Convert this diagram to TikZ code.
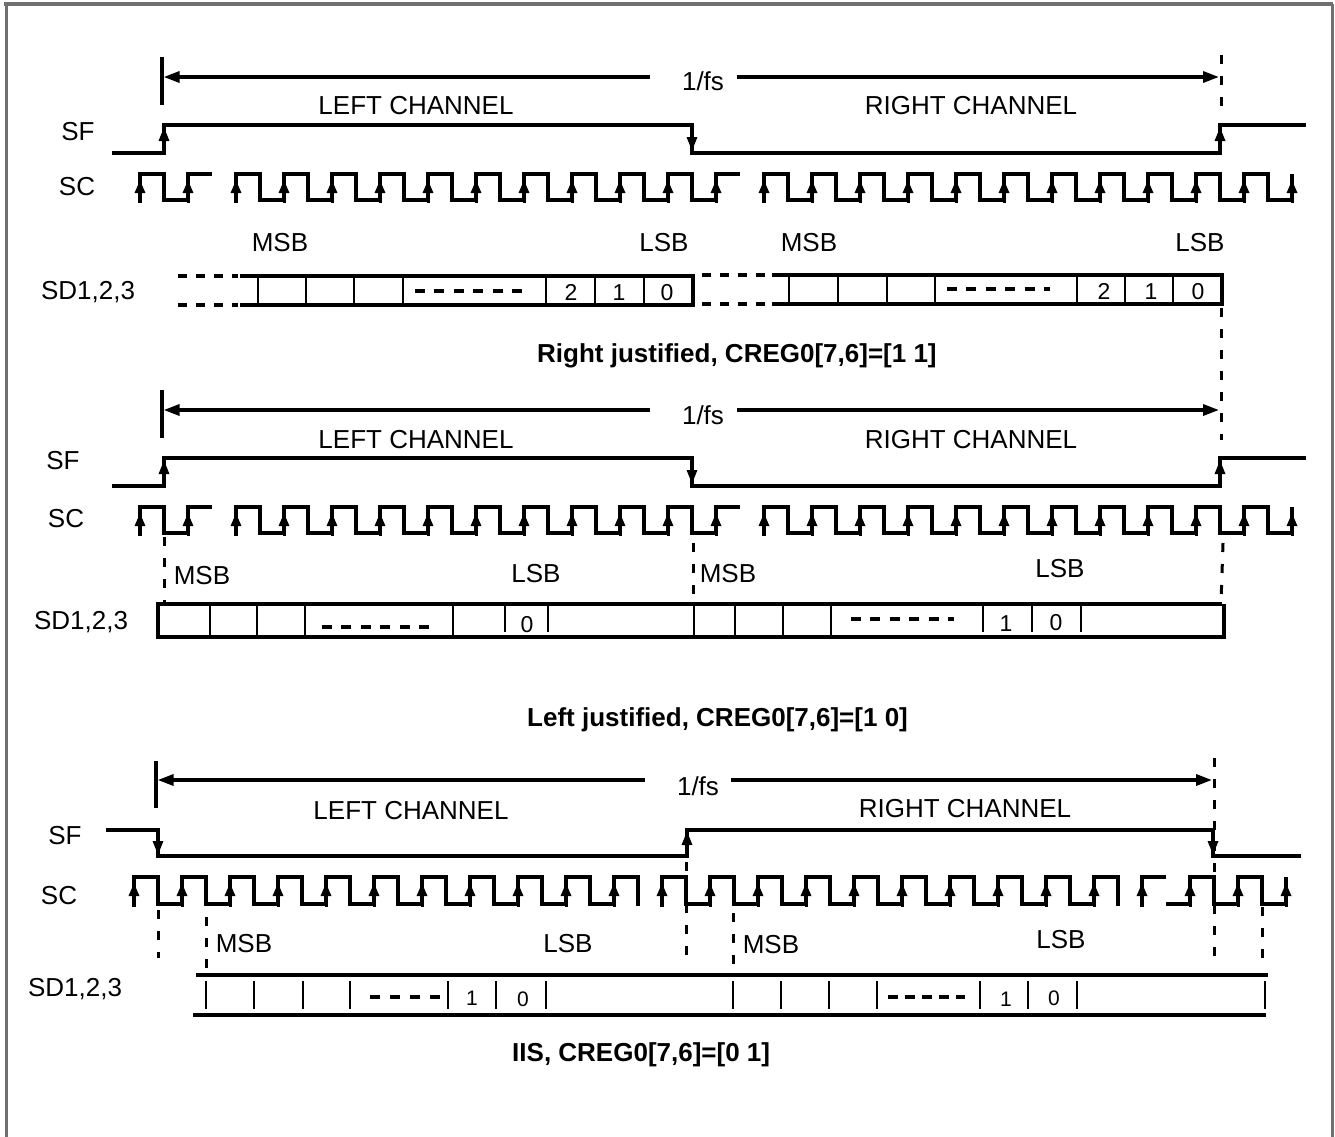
\documentclass[tikz,border=0pt]{standalone}
\usepackage{fontspec}
\setmainfont{Liberation Sans}
\usetikzlibrary{arrows.meta}
\definecolor{framegray}{RGB}{112,112,112}
\tikzset{
  wave/.style={line width=3.3pt, line join=miter},
  scarr/.style={line width=3pt, -{Triangle[length=13pt,width=10pt]}},
  sfarr/.style={line width=3pt, -{Triangle[length=14pt,width=10pt]}},
  dimarr/.style={line width=3.3pt, -{Triangle[length=16pt,width=11pt]}},
  sdline/.style={line width=3.4pt},
  div/.style={line width=2.6pt},
  vdash/.style={line width=3pt, dash pattern=on 9pt off 12pt},
  hdash/.style={line width=3.2pt, dash pattern=on 9pt off 9pt},
  mdash/.style={line width=3.2pt, dash pattern=on 10pt off 9.4pt},
  lbl/.style={font=\fontsize{26}{30}\selectfont, inner sep=0pt, anchor=base},
  dig/.style={font=\fontsize{23}{27}\selectfont, inner sep=0pt, anchor=base},
  capt/.style={font=\bfseries\fontsize{26}{30}\selectfont, inner sep=0pt, anchor=base west}
}
\newcommand\rjblock[1]{%
  % SC clock
  \draw[wave] (140,203) -- (140,174) -- (164,174) -- (164,200) -- (188,200) -- (188,174) -- (212,174);
  \draw[wave] (236,203) foreach \k in {2,...,11} { -- ({140+48*\k},174) -- ({164+48*\k},174) -- ({164+48*\k},200) -- ({188+48*\k},200) } -- (716,174) -- (740,174);
  \draw[wave] (764,203) foreach \k in {13,...,23} { -- ({140+48*\k},174) -- ({164+48*\k},174) -- ({164+48*\k},200) -- ({188+48*\k},200) } -- (1292,174);
  \foreach \k in {0,...,24} \draw[scarr] ({140+48*\k},203) -- ({140+48*\k},180);
  % SF
  \draw[wave] (112,153) -- (164,153) -- (164,125) -- (692,125) -- (692,153) -- (1220,153) -- (1220,125) -- (1306,125);
  \draw[sfarr] (164,153) -- (164,127);
  \draw[sfarr] (692,125) -- (692,151);
  \draw[sfarr] (1220,153) -- (1220,127);
  % 1/fs
  \draw[wave] (162,57) -- (162,105);
  \node[lbl] (fs#1) at (703,91) {1/fs};
  \draw[dimarr] (650,77) -- (163.6,77);
  \draw[dimarr] (737,77) -- (1219,77);
  \node[lbl] (lc#1) at (416,115) {LEFT CHANNEL};
  \node[lbl] (rc#1) at (971,115) {RIGHT CHANNEL};
}
\begin{document}
\begin{tikzpicture}[x=1pt,y=-1pt]
\useasboundingbox (0,0) rectangle (1335,1137);
% frame
\draw[framegray, line width=4.5pt] (4,4) -- (1333,4);
\draw[framegray, line width=3pt] (6,4) -- (6,1137);
\draw[framegray, line width=3pt] (1332,4) -- (1332,1137);

% ================= Section 1: right justified =================
\rjblock{a}
\node[lbl] (sfa) at (78,140) {SF};
\node[lbl] (sca) at (77,195) {SC};
\node[lbl] (sda) at (88,299) {SD1,2,3};
\node[lbl] (msba1) at (280,251) {MSB};
\node[lbl] (lsba1) at (664,251) {LSB};
\node[lbl] (msba2) at (809,251) {MSB};
\node[lbl] (lsba2) at (1200,251) {LSB};
% SD left word
\draw[hdash] (178,276) -- (238,276);
\draw[hdash] (178,305) -- (238,305);
\draw[sdline] (240,276) -- (693,276);
\draw[sdline] (240,305) -- (693,305);
\foreach \x in {258,306,354,403,546,595,644} \draw[div] (\x,276) -- (\x,305);
\draw[sdline] (693,274.3) -- (693,306.7);
\draw[mdash] (415,291) -- (522,291);
\node[dig] (a2) at (571,300) {2};
\node[dig] (a1) at (619,300) {1};
\node[dig] (a0) at (667,300) {0};
% SD right word
\draw[hdash] (702,275) -- (768,275);
\draw[hdash] (702,304) -- (768,304);
\draw[sdline] (772,275) -- (1222,275);
\draw[sdline] (772,304) -- (1222,304);
\foreach \x in {789,838,887,935,1077,1125,1173} \draw[div] (\x,275) -- (\x,304);
\draw[sdline] (1222,273.3) -- (1222,305.7);
\draw[mdash] (947,289) -- (1050,289);
\node[dig] (b2) at (1104,299) {2};
\node[dig] (b1) at (1151,299) {1};
\node[dig] (b0) at (1198,299) {0};
% long dashed marker
\draw[vdash] (1221,55) -- (1221,107);
\draw[vdash] (1221,308) -- (1221,440);
\node[capt] (capa) at (537,362) {Right justified, CREG0[7,6]=[1 1]};

% ================= Section 2: left justified =================
\begin{scope}[yshift=-333pt]
\rjblock{b}
\end{scope}
\node[lbl] (sfb) at (63,469) {SF};
\node[lbl] (scb) at (66,527) {SC};
\node[lbl] (sdb) at (81,629) {SD1,2,3};
\node[lbl] (msbb1) at (202,584) {MSB};
\node[lbl] (lsbb1) at (536,582) {LSB};
\node[lbl] (msbb2) at (728,582) {MSB};
\node[lbl] (lsbb2) at (1060,577) {LSB};
\draw[vdash] (164,537) -- (164,603);
\draw[vdash] (693,543) -- (693,604);
\draw[vdash] (1223,543) -- (1221,603);
\draw[sdline] (158,604) -- (1222,604);
\draw[sdline] (158,637) -- (1225,637);
\draw[sdline] (158,602.3) -- (158,638.7);
\foreach \x in {210,257,305,453,694,735,783,831} \draw[div] (\x,604) -- (\x,637);
\foreach \x in {505,548,983,1032,1081} \draw[div] (\x,606) -- (\x,632);
\draw[sdline] (1224,604) -- (1224,638.7);
\draw[mdash] (322,627) -- (429,627);
\draw[mdash] (851,619) -- (954,619);
\node[dig] (c0) at (527,632) {0};
\node[dig] (d1) at (1006,631) {1};
\node[dig] (d0) at (1056,630) {0};
\node[capt] (capb) at (527,726) {Left justified, CREG0[7,6]=[1 0]};

% ================= Section 3: IIS =================
% SC clock
\draw[wave] (134,907) foreach \k in {0,...,9} { -- ({134+48*\k},877) -- ({158+48*\k},877) -- ({158+48*\k},904) -- ({182+48*\k},904) } -- (614,877) -- (638,877) -- (638,906);
\draw[wave] (662,907) foreach \k in {11,...,19} { -- ({134+48*\k},877) -- ({158+48*\k},877) -- ({158+48*\k},904) -- ({182+48*\k},904) } -- (1094,877) -- (1118,877) -- (1118,906);
\draw[wave] (1142,907) -- (1142,877) -- (1166,877);
\draw[wave] (1166,904) -- (1190,904) -- (1190,877) -- (1214,877) -- (1214,904) -- (1238,904) -- (1238,877) -- (1262,877) -- (1262,904) -- (1286,904) -- (1286,877);
\foreach \k in {0,...,24} \draw[scarr] ({134+48*\k},907) -- ({134+48*\k},883);
% SF
\draw[wave] (106,830) -- (158,830) -- (158,856) -- (687,856) -- (687,830) -- (1213,830) -- (1213,856) -- (1301,856);
\draw[sfarr] (158,830) -- (158,855);
\draw[sfarr] (687,856) -- (687,831);
\draw[sfarr] (1213,830) -- (1213,855);
% 1/fs
\draw[wave] (156,761) -- (156,808);
\node[lbl] (fsc) at (698,795) {1/fs};
\draw[dimarr] (645,780) -- (157.6,780);
\draw[dimarr] (731,780) -- (1212,780);
\draw[vdash] (1214,758) -- (1214,967);
\node[lbl] (lcc) at (411,819) {LEFT CHANNEL};
\node[lbl] (rcc) at (965,817) {RIGHT CHANNEL};
\node[lbl] (sfc) at (65,844) {SF};
\node[lbl] (scc) at (59,904) {SC};
\node[lbl] (sdc) at (75,996) {SD1,2,3};
\node[lbl] (msbc1) at (244,952) {MSB};
\node[lbl] (lsbc1) at (568,952) {LSB};
\node[lbl] (msbc2) at (771,953) {MSB};
\node[lbl] (lsbc2) at (1061,948) {LSB};
\draw[vdash] (158,910) -- (158,958);
\draw[vdash] (206,917) -- (206,973);
\draw[vdash] (686,862) -- (686,957);
\draw[vdash] (733,913) -- (733,973);
\draw[vdash] (1262,907) -- (1262,962);
% SD
\draw[sdline] (196,975) -- (1268,975);
\draw[sdline] (193,1015) -- (1266,1015);
\foreach \x in {206,254,303,350,448,496,546,733,781,829,877,980,1028,1077,1265} \draw[div] (\x,981) -- (\x,1009);
\draw[mdash, dash pattern=on 10pt off 10pt] (370,997) -- (440,997);
\draw[mdash, dash pattern=on 10pt off 7pt] (888,997) -- (965,997);
\node[dig, font=\fontsize{21}{25}\selectfont] (e1) at (472,1005) {1};
\node[dig, font=\fontsize{21}{25}\selectfont] (e0) at (523,1006) {0};
\node[dig, font=\fontsize{21}{25}\selectfont] (f1) at (1006,1006) {1};
\node[dig, font=\fontsize{21}{25}\selectfont] (f0) at (1054,1005) {0};
\node[capt] (capc) at (512,1061) {IIS, CREG0[7,6]=[0 1]};
\end{tikzpicture}
\end{document}
